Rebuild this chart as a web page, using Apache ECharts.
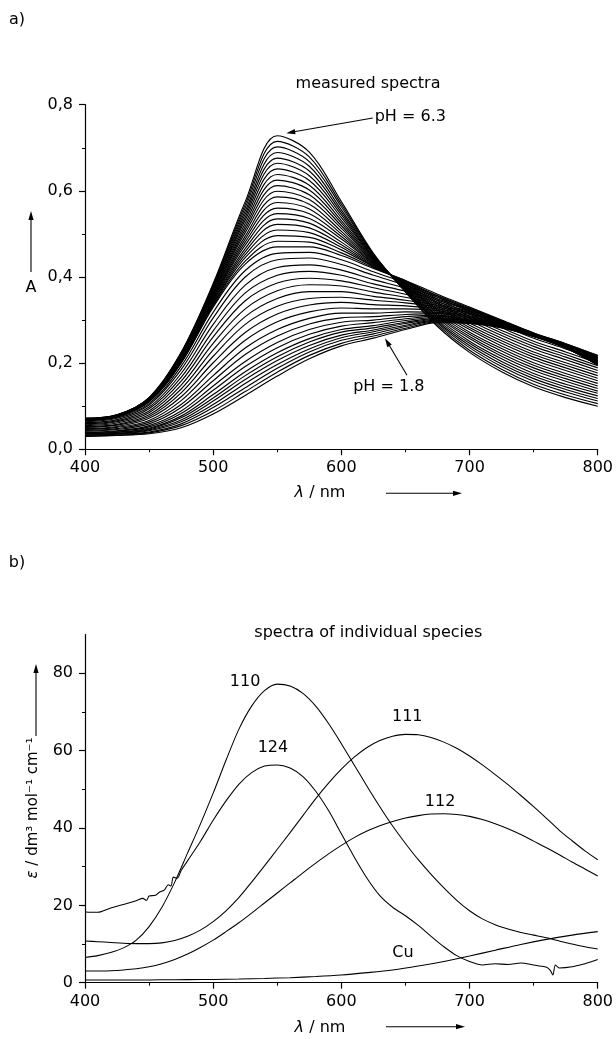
<!DOCTYPE html>
<html><head><meta charset="utf-8">
<script src="https://cdn.jsdelivr.net/npm/echarts@6/dist/echarts.min.js"></script>
<style>html,body{margin:0;padding:0;background:#fff}#c{width:616px;height:1039px}</style>
</head><body><div id="c"></div><script>
// ---------- Panel a: measured spectra (absorbance A vs wavelength) ----------
const wavelengthsA = [400,425,450,475,500,525,550,575,600,625,650,675,700,725,750,775,800];
// low-pH part of the titration (first row = pH 1.8)
const lowPHSpectra = [
  [.030,.032,.036,.050,.082,.125,.170,.210,.240,.258,.278,.294,.292,.282,.262,.235,.195],
  [.031,.033,.038,.055,.089,.134,.179,.218,.246,.263,.281,.296,.293,.283,.262,.235,.196],
  [.032,.035,.040,.059,.097,.143,.188,.226,.253,.268,.285,.298,.294,.283,.262,.236,.196],
  [.033,.036,.043,.064,.104,.153,.197,.233,.259,.273,.288,.300,.295,.284,.263,.236,.197],
  [.035,.037,.045,.068,.112,.162,.206,.241,.265,.277,.292,.302,.297,.284,.263,.236,.198],
  [.036,.039,.047,.073,.119,.171,.215,.249,.272,.282,.295,.304,.298,.285,.263,.237,.199],
  [.037,.040,.049,.077,.127,.180,.224,.257,.278,.287,.299,.306,.299,.285,.263,.237,.199],
  [.038,.042,.052,.083,.137,.192,.236,.267,.286,.294,.303,.309,.300,.286,.264,.237,.200],
  [.040,.043,.055,.089,.147,.204,.248,.278,.295,.300,.308,.311,.302,.287,.264,.238,.201],
  [.042,.046,.059,.097,.159,.220,.263,.291,.305,.308,.313,.315,.304,.288,.265,.238,.202],
  [.044,.048,.063,.104,.171,.235,.278,.304,.316,.316,.319,.318,.306,.289,.265,.239,.203],
  [.046,.051,.067,.113,.186,.253,.296,.319,.328,.326,.326,.322,.308,.290,.265,.239,.205],
  [.048,.053,.072,.122,.201,.271,.314,.335,.341,.336,.333,.326,.310,.291,.266,.240,.206],
  [.051,.056,.076,.131,.216,.290,.332,.350,.353,.346,.340,.330,.313,.292,.266,.240,.207],
  [.053,.058,.080,.140,.231,.308,.350,.366,.366,.355,.346,.334,.315,.293,.267,.241,.209],
  [.055,.061,.085,.149,.246,.326,.368,.382,.379,.365,.353,.338,.317,.294,.267,.242,.210],
  [.057,.064,.089,.158,.261,.345,.386,.397,.391,.375,.360,.342,.319,.295,.268,.242,.212],
  [.060,.066,.094,.167,.275,.363,.404,.413,.404,.384,.367,.346,.322,.296,.268,.243,.213],
  [.062,.069,.098,.176,.290,.381,.422,.428,.416,.394,.374,.349,.324,.297,.269,.243,.214],
  [.064,.072,.103,.185,.305,.400,.440,.444,.429,.404,.381,.353,.326,.298,.269,.244,.216],
  [.066,.074,.106,.193,.318,.415,.455,.457,.440,.412,.386,.357,.328,.299,.270,.245,.217]
];
// high-pH part of the titration (last row = pH 6.3)
const highPHSpectra = [
  [.068,.076,.110,.200,.330,.430,.470,.470,.450,.420,.392,.360,.330,.300,.270,.245,.218],
  [.068,.076,.111,.201,.333,.437,.483,.481,.456,.422,.391,.356,.325,.294,.264,.239,.212],
  [.068,.076,.111,.203,.336,.445,.496,.492,.463,.424,.389,.353,.320,.288,.258,.233,.206],
  [.069,.077,.112,.204,.338,.452,.509,.503,.469,.425,.388,.349,.314,.282,.251,.226,.200],
  [.069,.077,.112,.205,.341,.459,.522,.514,.475,.427,.387,.345,.309,.276,.245,.220,.194],
  [.069,.077,.113,.206,.344,.466,.535,.525,.481,.429,.385,.341,.304,.270,.239,.214,.189],
  [.069,.077,.113,.208,.347,.474,.547,.536,.488,.431,.384,.338,.299,.264,.233,.208,.183],
  [.069,.077,.114,.209,.349,.481,.560,.547,.494,.432,.383,.334,.293,.258,.226,.201,.177],
  [.070,.078,.114,.210,.352,.488,.573,.558,.500,.434,.381,.330,.288,.252,.220,.195,.171],
  [.070,.078,.115,.211,.355,.495,.586,.569,.506,.436,.380,.326,.283,.246,.214,.189,.165],
  [.070,.078,.115,.213,.358,.503,.599,.580,.513,.438,.379,.323,.278,.240,.208,.183,.159],
  [.070,.078,.116,.214,.360,.510,.612,.591,.519,.439,.377,.319,.272,.234,.201,.176,.153],
  [.070,.078,.116,.215,.363,.517,.625,.602,.525,.441,.376,.315,.267,.228,.195,.170,.147],
  [.071,.079,.117,.216,.366,.524,.638,.613,.531,.443,.374,.311,.262,.222,.189,.164,.141],
  [.071,.079,.117,.218,.369,.532,.651,.624,.538,.445,.373,.308,.257,.216,.183,.158,.135],
  [.071,.079,.118,.219,.371,.539,.664,.635,.544,.446,.372,.304,.251,.210,.176,.151,.130],
  [.071,.079,.118,.220,.374,.546,.676,.646,.550,.448,.370,.300,.246,.204,.170,.145,.124],
  [.071,.079,.119,.221,.377,.553,.689,.657,.556,.450,.369,.296,.241,.198,.164,.139,.118],
  [.072,.080,.119,.223,.380,.561,.702,.668,.563,.452,.368,.293,.236,.192,.158,.133,.112],
  [.072,.080,.120,.224,.382,.568,.715,.679,.569,.453,.366,.289,.230,.186,.151,.126,.106],
  [.072,.080,.120,.225,.385,.575,.728,.690,.575,.455,.365,.285,.225,.180,.145,.120,.100]
];
const ticksA_x = [400,500,600,700,800];
const ticksA_y = [0,0.2,0.4,0.6,0.8];

// ---------- Panel b: spectra of individual species ----------
const wavelengthsB = [400,410,420,430,440,450,460,470,480,490,500,510,520,530,540,550,560,570,580,590,600,
                      610,620,630,640,650,660,670,680,690,700,710,720,730,740,750,760,770,780,790,800];
const eps110 = [6.5,7.0,7.8,9.0,11.0,14.5,19.5,26.0,33.5,41.0,49.0,57.5,65.5,71.5,75.5,77.2,76.7,74.8,71.5,67.0,61.8,
                56.3,50.8,45.5,40.5,36.0,31.8,28.0,24.5,21.3,18.6,16.5,15.0,13.9,13.0,12.3,11.6,10.8,10.0,9.3,8.7];
const eps111 = [10.8,10.6,10.4,10.2,10.1,10.1,10.3,10.9,12.0,13.6,15.8,18.6,22.0,26.0,30.2,34.5,38.8,43.2,47.6,51.6,55.2,
                58.3,60.8,62.6,63.7,64.2,64.1,63.4,62.2,60.6,58.6,56.3,53.8,51.2,48.4,45.5,42.5,39.4,36.7,34.1,31.8];
const eps112 = [3.0,3.0,3.1,3.3,3.6,4.1,4.9,6.0,7.4,9.1,11.0,13.2,15.5,18.0,20.6,23.2,25.8,28.4,30.9,33.3,35.5,
                37.5,39.2,40.6,41.7,42.6,43.2,43.6,43.7,43.5,43.0,42.2,41.1,39.8,38.3,36.6,34.9,33.1,31.2,29.4,27.6];
const wavelengths124 = [400,410,420,430,440,445,448,450,455,458,462,465,467,469,472,475,480,490,500,510,520,530,540,550,560,
                        570,580,590,600,610,620,630,640,650,660,670,680,690,700,710,720,730,740,750,755,760,763,765,767,770,780,790,795,800];
const eps124 = [18.3,18.2,19.3,20.2,21.2,21.8,21.3,22.4,22.6,23.4,24.0,25.3,25.0,27.3,27.0,29.0,31.5,36.5,42.0,47.0,51.3,54.3,56.0,56.3,55.5,
                53.3,49.5,44.5,38.5,32.5,27.0,22.5,19.5,17.3,14.8,12.0,9.3,7.0,5.5,4.6,4.9,4.7,5.1,4.6,4.3,4.0,3.2,2.0,4.6,3.8,4.1,4.9,5.4,6.0];
const wavelengthsCu = [400,420,440,460,480,500,520,540,560,580,600,620,640,660,680,700,720,740,760,780,800];
const epsCu = [0.7,0.7,0.7,0.75,0.8,0.85,0.95,1.1,1.3,1.6,2.0,2.6,3.3,4.3,5.5,6.9,8.4,9.9,11.2,12.3,13.2];
const ticksB_y = [0,20,40,60,80];

// ---------- build ----------
const FONT = 'DejaVu Sans';
const chart = echarts.init(document.getElementById('c'), null, {renderer: 'canvas'});
const zip = (xs, ys) => xs.map((x, i) => [x, ys[i]]);

const seriesA = lowPHSpectra.concat(highPHSpectra).map(row => ({
  type: 'line', xAxisIndex: 0, yAxisIndex: 0, data: zip(wavelengthsA, row),
  showSymbol: false, smooth: 0.35, silent: true,
  lineStyle: {color: '#000', width: 1.15}
}));
const lineB = (xs, ys) => ({
  type: 'line', xAxisIndex: 1, yAxisIndex: 1, data: zip(xs, ys),
  showSymbol: false, smooth: 0.3, silent: true,
  lineStyle: {color: '#000', width: 1.05}
});
const seriesB = [
  lineB(wavelengthsB, eps110), lineB(wavelengthsB, eps111), lineB(wavelengthsB, eps112),
  lineB(wavelengths124, eps124), lineB(wavelengthsCu, epsCu)
];

const axisCommon = {
  axisLine: {show: true, onZero: false, lineStyle: {color: '#000', width: 1.2}},
  axisTick: {show: true, inside: false, length: 6, lineStyle: {color: '#000', width: 1.2}},
  minorTick: {show: true, splitNumber: 2, length: 3, lineStyle: {color: '#000', width: 1}},
  splitLine: {show: false},
  axisLabel: {color: '#000', fontSize: 16, fontFamily: FONT}
};
const xAxisCfg = (gi) => Object.assign({}, axisCommon, {
  type: 'value', gridIndex: gi, min: 400, max: 800, interval: 100,
  axisLabel: Object.assign({}, axisCommon.axisLabel, {margin: 11, customValues: ticksA_x})
});

chart.setOption({
  animation: false,
  backgroundColor: '#fff',
  grid: [
    {left: 85, top: 104.7, width: 513, height: 344.6, show: false},
    {left: 85, top: 634.6, width: 515.7, height: 348.1, show: false}
  ],
  xAxis: [xAxisCfg(0), xAxisCfg(1)],
  yAxis: [
    Object.assign({}, axisCommon, {
      type: 'value', gridIndex: 0, min: 0, max: 0.8, interval: 0.2,
      axisLabel: Object.assign({}, axisCommon.axisLabel, {margin: 12, customValues: ticksA_y,
        formatter: v => v.toFixed(1).replace('.', ',')})
    }),
    Object.assign({}, axisCommon, {
      type: 'value', gridIndex: 1, min: 0, max: 90, interval: 20,
      axisTick: Object.assign({}, axisCommon.axisTick, {customValues: ticksB_y}),
      axisLabel: Object.assign({}, axisCommon.axisLabel, {margin: 12, customValues: ticksB_y})
    })
  ],
  series: seriesA.concat(seriesB)
});

// ---------- annotations ----------
const pA = (p) => chart.convertToPixel({gridIndex: 0}, p);
const pB = (p) => chart.convertToPixel({gridIndex: 1}, p);
function txt(pos, str, extra, elExtra) {
  return Object.assign({type: 'text', x: pos[0], y: pos[1], silent: true,
    style: Object.assign({text: str, fill: '#000', fontSize: 16, fontFamily: FONT,
      align: 'center', verticalAlign: 'middle'}, extra || {})}, elExtra || {});
}
function arrow(p1, p2, head, half) {
  head = head || 9; half = half || 2.6;
  const dx = p2[0] - p1[0], dy = p2[1] - p1[1], L = Math.hypot(dx, dy);
  const ux = dx / L, uy = dy / L, bx = p2[0] - ux * head, by = p2[1] - uy * head;
  return [
    {type: 'line', silent: true, shape: {x1: p1[0], y1: p1[1], x2: bx + ux, y2: by + uy},
     style: {stroke: '#000', lineWidth: 1.1}},
    {type: 'polygon', silent: true,
     shape: {points: [[p2[0], p2[1]], [bx - uy * half, by + ux * half], [bx + uy * half, by - ux * half]]},
     style: {fill: '#000'}}
  ];
}
const italicRich = {i: {fontStyle: 'italic', fontSize: 16, fontFamily: FONT, fill: '#000'}};
const gA = chart.getModel().getComponent('grid', 0).coordinateSystem.getRect();
const gB = chart.getModel().getComponent('grid', 1).coordinateSystem.getRect();
const xTitleA = gA.y + gA.height + 44;
const xTitleB = gB.y + gB.height + 45;

const graphics = [].concat(
  // panel a
  [txt([17, 20], 'a)')],
  [txt(pA([620.8, 0.848]), 'measured spectra')],
  [txt(pA([626, 0.771]), 'pH = 6.3', {align: 'left'})],
  arrow(pA([624.5, 0.769]), pA([557, 0.734])),
  [txt(pA([637, 0.145]), 'pH = 1.8')],
  arrow(pA([651.2, 0.172]), pA([634, 0.258])),
  [txt([31, 288], 'A')],
  arrow([31, 272], [31, 211]),
  [txt([320, xTitleA], '{i|λ} / nm', {rich: italicRich})],
  arrow([386, xTitleA], [462, xTitleA]),
  // panel b
  [txt([17, 563], 'b)')],
  [txt(pB([621, 90.4]), 'spectra of individual species')],
  [txt(pB([524.9, 77.7]), '110')],
  [txt(pB([546.6, 60.7]), '124')],
  [txt(pB([651.4, 68.8]), '111')],
  [txt(pB([677, 46.7]), '112')],
  [txt(pB([648, 7.7]), 'Cu')],
  [txt([33, 808], '{i|ε} / dm³ mol⁻¹ cm⁻¹', {rich: {i: {fontStyle: 'italic', fontSize: 15, fontFamily: FONT, fill: '#000'}}, fontSize: 15},
       {rotation: Math.PI / 2})],
  arrow([36, 736], [36, 664]),
  [txt([320, xTitleB], '{i|λ} / nm', {rich: italicRich})],
  arrow([386, xTitleB - 1], [465, xTitleB - 1])
);
chart.setOption({graphic: {elements: graphics}});
</script></body></html>
